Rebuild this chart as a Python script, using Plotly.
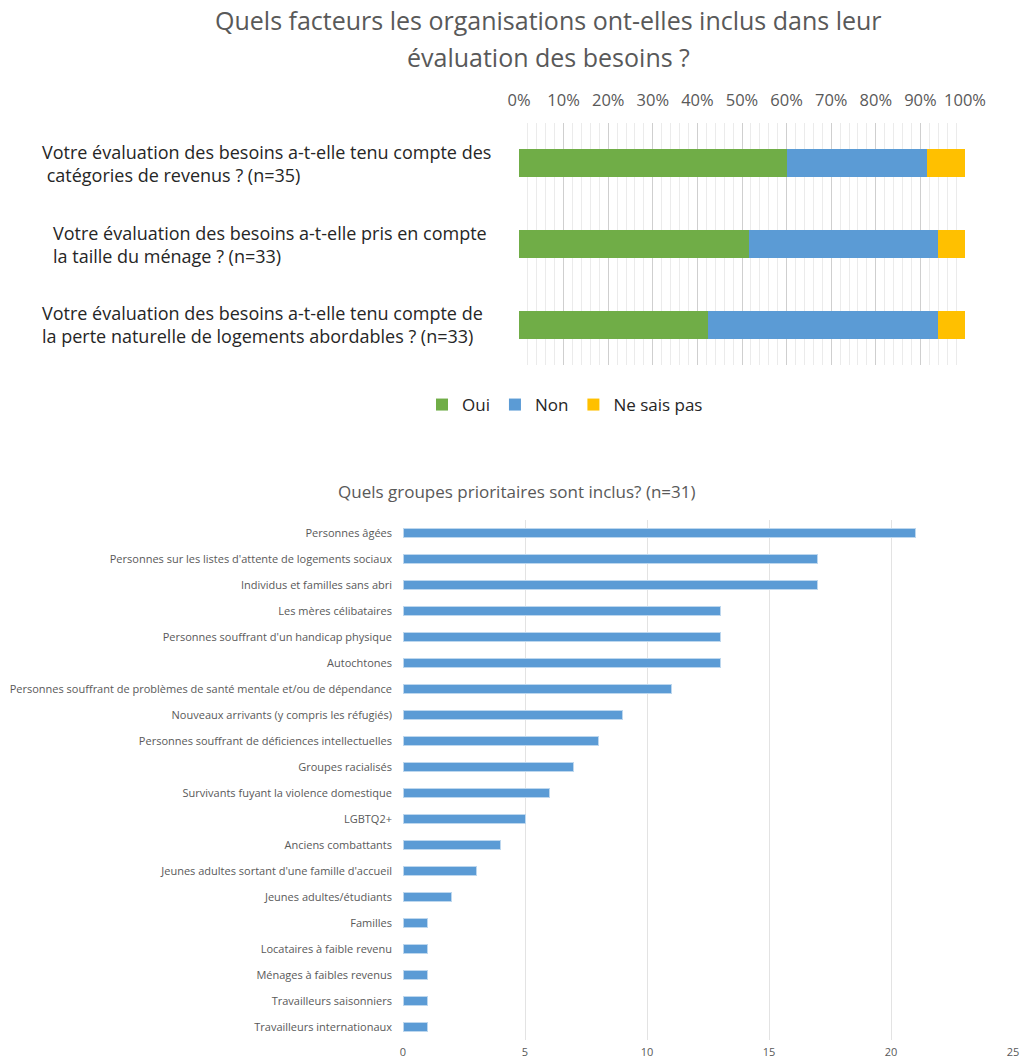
import plotly.graph_objects as go

W, H = 1020, 1063

# ---------------- data ----------------
top_title_lines = [
    "Quels facteurs les organisations ont-elles inclus dans leur",
    "évaluation des besoins ?",
]
top_keys = ["revenus", "menage", "perte"]
top_labels = [
    "Votre évaluation des besoins a-t-elle tenu compte des<br> catégories de revenus ? (n=35)",
    "Votre évaluation des besoins a-t-elle pris en compte<br>la taille du ménage ? (n=33)",
    "Votre évaluation des besoins a-t-elle tenu compte de<br>la perte naturelle de logements abordables ? (n=33)",
]
series_names = ["Oui", "Non", "Ne sais pas"]
oui = [60.0, 51.5, 42.4]
non = [31.4, 42.4, 51.5]
nsp = [8.6, 6.1, 6.1]
pct_ticks = [0, 10, 20, 30, 40, 50, 60, 70, 80, 90, 100]
pct_tick_text = ["0%", "10%", "20%", "30%", "40%", "50%", "60%", "70%", "80%", "90%", "100%"]

bottom_title = "Quels groupes prioritaires sont inclus? (n=31)"
groups = [
    "Personnes âgées",
    "Personnes sur les listes d'attente de logements sociaux",
    "Individus et familles sans abri",
    "Les mères célibataires",
    "Personnes souffrant d'un handicap physique",
    "Autochtones",
    "Personnes souffrant de problèmes de santé mentale et/ou de dépendance",
    "Nouveaux arrivants (y compris les réfugiés)",
    "Personnes souffrant de déficiences intellectuelles",
    "Groupes racialisés",
    "Survivants fuyant la violence domestique",
    "LGBTQ2+",
    "Anciens combattants",
    "Jeunes adultes sortant d'une famille d'accueil",
    "Jeunes adultes/étudiants",
    "Familles",
    "Locataires à faible revenu",
    "Ménages à faibles revenus",
    "Travailleurs saisonniers",
    "Travailleurs internationaux",
]
counts = [21, 17, 17, 13, 13, 13, 11, 9, 8, 7, 6, 5, 4, 3, 2, 1, 1, 1, 1, 1]
count_ticks = [0, 5, 10, 15, 20, 25]

# ---------------- styling ----------------
FONT = "Open Sans"
GREEN, BLUE, YELLOW = "#70ad47", "#5b9bd5", "#ffc000"
GREY_TXT = "#595959"

def px_x(p):
    return p / W

def px_y(p):
    return 1 - p / H

fig = go.Figure()

for name, vals, col in zip(series_names, [oui, non, nsp], [GREEN, BLUE, YELLOW]):
    fig.add_trace(go.Bar(
        x=vals, y=top_keys, name=name, orientation="h",
        marker=dict(color=col, line=dict(width=0)),
        width=0.35, xaxis="x", yaxis="y",
    ))

fig.add_trace(go.Bar(
    x=counts, y=groups, orientation="h", showlegend=False,
    marker=dict(color=BLUE, line=dict(color="#bdd7ee", width=1)),
    width=0.38, xaxis="x2", yaxis="y2",
))

annotations = []
for line, ly in zip(top_title_lines, [20, 57]):
    annotations.append(dict(
        text=line, x=px_x(548), y=px_y(ly), xref="paper", yref="paper",
        showarrow=False, font=dict(family=FONT, size=25, color=GREY_TXT),
        xanchor="center", yanchor="middle",
    ))
annotations.append(dict(
    text=bottom_title, x=px_x(517), y=px_y(492), xref="paper", yref="paper",
    showarrow=False, font=dict(family=FONT, size=17, color=GREY_TXT),
    xanchor="center", yanchor="middle",
))
label_x = [40, 51, 40]
for key, lab, lx in zip(top_keys, top_labels, label_x):
    annotations.append(dict(
        text=lab, x=px_x(lx), y=key, xref="paper", yref="y",
        showarrow=False, xanchor="left", yanchor="middle", align="left",
        font=dict(family=FONT, size=18, color="#262626"),
    ))

fig.update_layout(
    width=W, height=H,
    margin=dict(l=0, r=0, t=0, b=0, autoexpand=False),
    paper_bgcolor="white", plot_bgcolor="white",
    barmode="stack",
    font=dict(family=FONT, color=GREY_TXT),
    xaxis=dict(
        domain=[px_x(519), px_x(965)], anchor="y", side="top",
        range=[0, 100], tickvals=pct_ticks, ticktext=pct_tick_text,
        showgrid=True, gridcolor="#cfcfcf", gridwidth=1,
        minor=dict(dtick=2, showgrid=True, gridcolor="#ebebeb", gridwidth=1),
        zeroline=False, showline=False, automargin=False,
        tickfont=dict(family=FONT, size=16.5, color=GREY_TXT),
        ticklabelstandoff=13, fixedrange=True,
    ),
    yaxis=dict(
        domain=[px_y(365), px_y(123)], anchor="x",
        categoryorder="array", categoryarray=top_keys, autorange="reversed",
        showticklabels=False, showgrid=False, zeroline=False, showline=False,
        automargin=False,
    ),
    xaxis2=dict(
        domain=[px_x(403), px_x(1013)], anchor="y2",
        range=[0, 25], tickvals=count_ticks,
        showgrid=True, gridcolor="#e3e3e3", gridwidth=1,
        zeroline=False, showline=False, automargin=False,
        tickfont=dict(family=FONT, size=11, color=GREY_TXT),
        ticklabelstandoff=4,
    ),
    yaxis2=dict(
        domain=[px_y(1040), px_y(520)], anchor="x2",
        categoryorder="array", categoryarray=groups, autorange="reversed",
        showgrid=False, zeroline=False, showline=False, automargin=False,
        tickfont=dict(family=FONT, size=11, color=GREY_TXT),
        ticklabelstandoff=10,
    ),
    legend=dict(
        orientation="h", x=px_x(565), y=px_y(405), xanchor="center", yanchor="middle",
        font=dict(family=FONT, size=17, color="#262626"),
        itemwidth=30, traceorder="normal",
    ),
    annotations=annotations,
    showlegend=True,
)

fig.write_html("out.html")
